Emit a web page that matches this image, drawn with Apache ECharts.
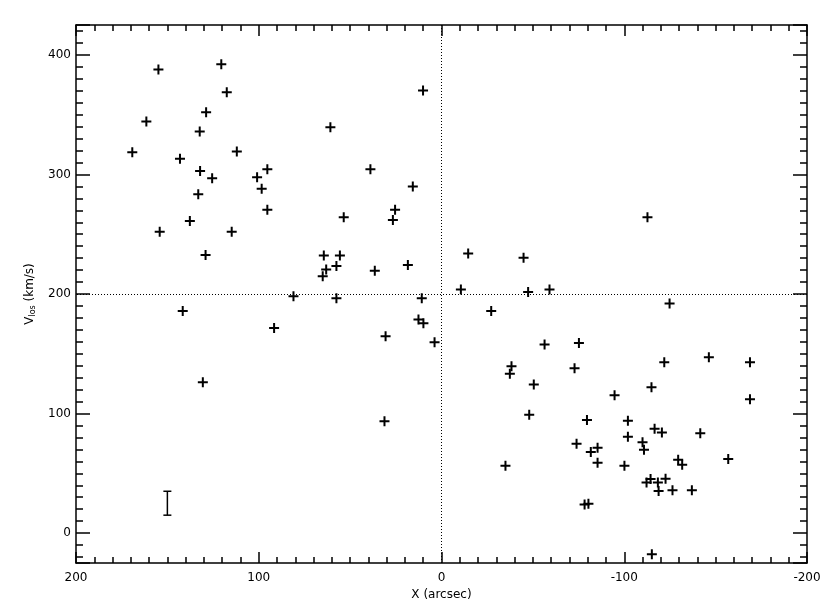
<!DOCTYPE html>
<html>
<head>
<meta charset="utf-8">
<script src="https://cdn.jsdelivr.net/npm/echarts@6/dist/echarts.min.js"></script>
<style>html,body{margin:0;padding:0;background:#fff}#c{width:830px;height:612px}</style>
</head>
<body>
<div id="c"></div>
<script>
// Positive-X group (arcsec, km/s)
const eastX = [154.9,120.5,117.5,128.8,161.5,132.3,169.2,112,143.1,132.1,125.5,100.9,98.4,133.1,137.7,154.2,114.8,129.1,
  10.1,60.8,95.3,38.9,15.7,95.3,25.4,26.6,53.5,64.4,55.6,63.1,65,57.5,36.5,18.4,
  141.6,130.6,81,57.5,10.8,91.6,12.6,9.9,30.6,3.8,31.2];
const eastV = [387.7,392.1,368.8,352.1,344.3,335.9,318.6,319.2,313.1,302.8,296.9,297.7,288,283.5,261,252.1,252.1,232.6,
  370.2,339.5,304.4,304.4,290,270.5,270.5,261.8,264.1,232.3,232.3,220.4,214.8,223.4,219.5,224.2,
  185.8,126.2,198.1,196.4,196.4,171.6,178.6,175.5,164.7,159.6,93.6];
// Negative-X group
const westX = [-14.6,-44.9,-10.6,-47.4,-59.1,-112.7,-27.2,-56.4,-75.2,-38.3,-37.4,-72.8,-50.5,-94.7,-48,-79.6,-102,-102,
  -73.9,-81.7,-85.4,-85.4,-100.1,-35,-78.3,-80.4,-124.8,-121.9,-146.3,-168.8,-114.9,-168.8,-116.6,-120.6,-141.6,-110,
  -110.8,-156.9,-129.5,-131.7,-112.2,-114.4,-118.4,-122.6,-118.8,-126.4,-137,-115.1];
const westV = [233.8,230.4,203.7,201.7,203.7,264.1,185.8,157.7,159.1,139.6,133.2,137.9,124.3,115.4,98.9,94.7,93.9,80.5,
  74.7,67.8,71.3,58.8,56.3,56.3,24,24.6,192,143,147.1,143,122,112,87.2,84.2,83.6,76.1,
  69.7,61.9,61.3,57.1,42.4,45.2,42.4,45.5,35.2,35.8,35.8,-17.7];
// Representative error bar: [x, low, high]
const errorBar = [[150, 15, 35]];
const refX = 0, refV = 200;

const pts = [];
eastX.forEach((x, i) => pts.push([x, eastV[i]]));
westX.forEach((x, i) => pts.push([x, westV[i]]));

const plus = 'path://M4,0L6,0L6,4L10,4L10,6L6,6L6,10L4,10L4,6L0,6L0,4L4,4Z';
const font = 'DejaVu Sans';
const axisLine = {show: true, onZero: false, lineStyle: {color: '#000', width: 1.5}};

function xAx(pos, labels) {
  return {
    type: 'value', position: pos, min: -200, max: 200, interval: 100, inverse: true,
    axisLine: axisLine,
    axisTick: {show: true, inside: true, length: 11, lineStyle: {color: '#000', width: 1.5}},
    minorTick: {show: true, splitNumber: 10, length: 6, lineStyle: {color: '#000', width: 1.5}},
    splitLine: {show: false}, minorSplitLine: {show: false},
    axisLabel: {show: labels, color: '#000', fontFamily: font, fontSize: 12, margin: 9},
    name: labels ? 'X (arcsec)' : '', nameLocation: 'middle', nameGap: 25,
    nameTextStyle: {color: '#000', fontFamily: font, fontSize: 12}
  };
}
function yAx(pos, labels) {
  return {
    type: 'value', position: pos, min: -25, max: 425,
    axisLine: axisLine,
    axisTick: {show: true, inside: true, length: 14, lineStyle: {color: '#000', width: 1.5}},
    minorTick: {show: true, splitNumber: 10, length: 7, lineStyle: {color: '#000', width: 1.5}},
    splitLine: {show: false}, minorSplitLine: {show: false},
    axisLabel: {show: labels, color: '#000', fontFamily: font, fontSize: 12, margin: 5,
      showMinLabel: false, showMaxLabel: false},
    name: labels ? 'V{sub|los} (km/s)' : '', nameLocation: 'middle', nameGap: 33,
    nameTextStyle: {color: '#000', fontFamily: font, fontSize: 12,
      rich: {sub: {fontSize: 8, fontFamily: font, color: '#000', verticalAlign: 'bottom', padding: [6, 0, 0, 0]}}}
  };
}

const chart = echarts.init(document.getElementById('c'), null, {renderer: 'canvas'});
chart.setOption({
  animation: false,
  backgroundColor: '#fff',
  grid: {left: 76, right: 23, top: 25, bottom: 49, containLabel: false},
  xAxis: [xAx('bottom', true), xAx('top', false)],
  yAxis: [yAx('left', true), yAx('right', false)],
  series: [
    {
      type: 'scatter', xAxisIndex: 0, yAxisIndex: 0,
      data: pts, symbol: plus, symbolSize: 10,
      itemStyle: {color: '#000', opacity: 1},
      markLine: {
        silent: true, symbol: 'none', animation: false,
        label: {show: false},
        lineStyle: {color: '#000', width: 1, type: [1, 2]},
        data: [{xAxis: refX}, {yAxis: refV}]
      },
      z: 3
    },
    {
      type: 'custom', xAxisIndex: 0, yAxisIndex: 0,
      data: errorBar,
      renderItem: function (params, api) {
        const top = api.coord([api.value(0), api.value(2)]);
        const bot = api.coord([api.value(0), api.value(1)]);
        const w = 4;
        const st = {stroke: '#000', lineWidth: 1.5};
        return {type: 'group', children: [
          {type: 'line', shape: {x1: top[0], y1: top[1], x2: bot[0], y2: bot[1]}, style: st},
          {type: 'line', shape: {x1: top[0]-w, y1: top[1], x2: top[0]+w, y2: top[1]}, style: st},
          {type: 'line', shape: {x1: bot[0]-w, y1: bot[1], x2: bot[0]+w, y2: bot[1]}, style: st}
        ]};
      }
    }
  ]
});
</script>
</body>
</html>
